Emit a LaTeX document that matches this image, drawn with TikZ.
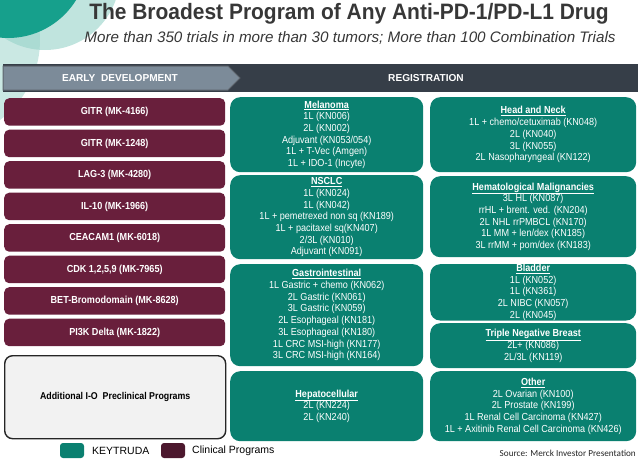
\documentclass[tikz,border=0pt]{standalone}
\usepackage{fontspec}
\setmainfont{Liberation Sans}[FakeStretch=0.89]
\newfontfamily\titlefont{Liberation Sans}[FakeStretch=0.94]
\newfontfamily\plainfont{Liberation Sans}
\newfontfamily\srcfont{Carlito}
\definecolor{keyteal}{RGB}{10,128,112}
\definecolor{maroon}{RGB}{105,31,60}
\definecolor{maroondark}{RGB}{76,24,46}
\definecolor{bardark}{RGB}{54,62,72}
\definecolor{barlight}{RGB}{124,139,153}
\definecolor{titlegray}{RGB}{55,55,55}
\definecolor{decoteal}{RGB}{22,160,140}
\definecolor{decolight}{RGB}{150,210,200}
\tikzset{
  clin/.style={fill=maroon, rounded corners=5pt, text=white,
    font=\bfseries\fontsize{10.2}{12}\selectfont, minimum width=221pt,
    minimum height=27.5pt, inner sep=0pt, anchor=north west},
  key/.style={fill=keyteal, rounded corners=10pt, text=white, align=center,
    font=\fontsize{10.2}{11.7}\selectfont, inner sep=0pt, anchor=north west},
  midbox/.style={key, minimum width=193pt},
  rightbox/.style={key, minimum width=206pt},
  hdr/.style={text=white, font=\plainfont\bfseries\fontsize{10.1}{12}\selectfont},
  swatch/.style={rounded corners=3pt, minimum width=24pt, minimum height=15pt, inner sep=0pt},
  legtext/.style={font=\plainfont\fontsize{10.5}{12}\selectfont, anchor=west, inner sep=0pt}
}
\begin{document}
\begin{tikzpicture}[x=1pt,y=-1pt]
\useasboundingbox (0,0) rectangle (640,469);
% decoration
\begin{scope}
\clip (0,0) rectangle (640,469);
\fill[decolight, opacity=0.5] (-60,40) circle (100);
\fill[decolight, opacity=0.6] (45,-25) circle (75);
\fill[decoteal] (8,-42) circle (80);
\end{scope}
% title
\node[anchor=base, text=titlegray, font=\titlefont\bfseries\fontsize{22.3}{26}\selectfont, inner sep=0pt] (title) at (349,19) {The Broadest Program of Any Anti-PD-1/PD-L1 Drug};
\node[anchor=base, text=titlegray, font=\plainfont\itshape\fontsize{15.2}{18}\selectfont, inner sep=0pt] (subtitle) at (350,42) {More than 350 trials in more than 30 tumors; More than 100 Combination Trials};
% header bar
\fill[bardark] (3,64) rectangle (638,92);
\fill[barlight, draw=bardark!80, line width=1pt] (3,66) -- (228,66) -- (240,78) -- (228,90) -- (3,90) -- cycle;
\node[hdr] (early) at (120,78) {EARLY\ \ DEVELOPMENT};
\node[hdr] (reg) at (426,78) {REGISTRATION};
% clinical programs
\node[clin] (c1) at (4,98) {GITR (MK-4166)};
\node[clin] (c2) at (4,129.5) {GITR (MK-1248)};
\node[clin] (c3) at (4,161) {LAG-3 (MK-4280)};
\node[clin] (c4) at (4,192.5) {IL-10 (MK-1966)};
\node[clin] (c5) at (4,224) {CEACAM1 (MK-6018)};
\node[clin] (c6) at (4,255.5) {CDK 1,2,5,9 (MK-7965)};
\node[clin] (c7) at (4,287) {BET-Bromodomain (MK-8628)};
\node[clin] (c8) at (4,318.5) {PI3K Delta (MK-1822)};
\node[anchor=north west, fill=black!5, draw=black!85, line width=1.4pt, rounded corners=8pt,
  minimum width=221pt, minimum height=83pt, inner sep=0pt,
  font=\bfseries\fontsize{9.9}{12}\selectfont] (addl) at (4,355) {Additional I-O\ \ Preclinical Programs};
% middle column
\node[midbox, minimum height=75pt] (mel) at (230,97) {\underline{\textbf{Melanoma}}\\1L (KN006)\\2L (KN002)\\Adjuvant (KN053/054)\\1L + T-Vec (Amgen)\\1L + IDO-1 (Incyte)};
\node[midbox, minimum height=84pt] (nsclc) at (230,175) {\underline{\textbf{NSCLC}}\\1L (KN024)\\1L (KN042)\\1L + pemetrexed non sq (KN189)\\1L + pacitaxel sq(KN407)\\2/3L (KN010)\\Adjuvant (KN091)};
\node[midbox, minimum height=102pt] (gi) at (230,264) {\underline{\textbf{Gastrointestinal}}\\1L Gastric + chemo (KN062)\\2L Gastric (KN061)\\3L Gastric (KN059)\\2L Esophageal (KN181)\\3L Esophageal (KN180)\\1L CRC MSI-high (KN177)\\3L CRC MSI-high (KN164)};
\node[midbox, minimum height=70pt] (hcc) at (230,371) {\underline{\textbf{Hepatocellular}}\\2L (KN224)\\2L (KN240)};
% right column
\node[rightbox, minimum height=75pt] (hn) at (430,97) {\underline{\textbf{Head and Neck}}\\1L + chemo/cetuximab (KN048)\\2L (KN040)\\3L (KN055)\\2L Nasopharyngeal (KN122)};
\node[rightbox, minimum height=81pt] (heme) at (430,176) {\underline{\textbf{Hematological Malignancies}}\\3L HL (KN087)\\rrHL + brent. ved. (KN204)\\2L NHL rrPMBCL (KN170)\\1L MM + len/dex (KN185)\\3L rrMM + pom/dex (KN183)};
\node[rightbox, minimum height=56pt] (blad) at (430,264) {\underline{\textbf{Bladder}}\\1L (KN052)\\1L (KN361)\\2L NIBC (KN057)\\2L (KN045)};
\node[rightbox, minimum height=45pt] (tnbc) at (430,323) {\underline{\textbf{Triple Negative Breast}}\\2L+ (KN086)\\2L/3L (KN119)};
\node[rightbox, minimum height=70pt] (other) at (430,371) {\underline{\textbf{Other}}\\2L Ovarian (KN100)\\2L Prostate (KN199)\\1L Renal Cell Carcinoma (KN427)\\1L + Axitinib Renal Cell Carcinoma (KN426)};
% legend
\node[swatch, fill=keyteal] (sw1) at (72,450.5) {};
\node[legtext] (lk) at (92,451) {KEYTRUDA};
\node[swatch, fill=maroondark] (sw2) at (173,450.5) {};
\node[legtext] (lc) at (192,451) {Clinical Programs};
\node[anchor=base east, inner sep=0pt, font=\srcfont\fontsize{9.2}{11}\selectfont, text=black!85] (src) at (636,456) {Source: Merck Investor Presentation};
\end{tikzpicture}
\end{document}
